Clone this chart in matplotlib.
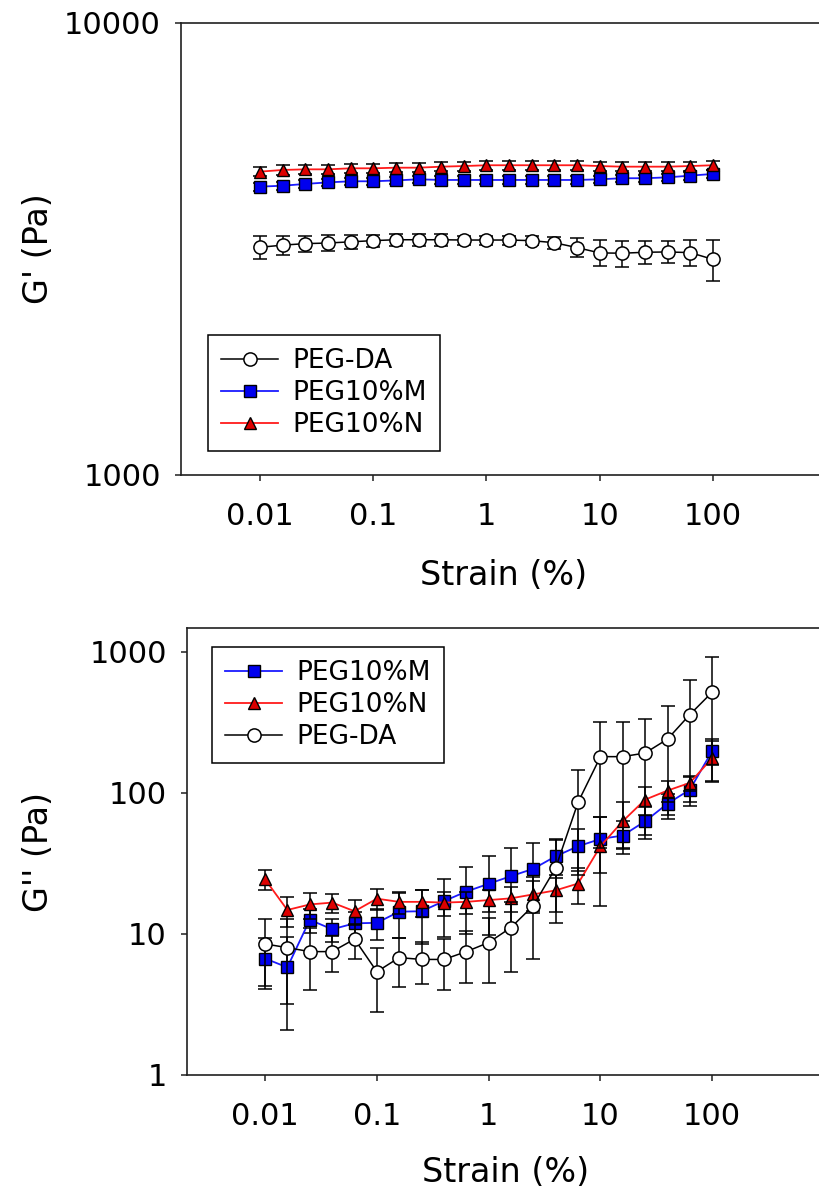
import matplotlib
matplotlib.use('Agg')
import matplotlib.pyplot as plt
from matplotlib.ticker import FixedLocator, FixedFormatter, NullLocator

# ---------------- data ----------------
strain = [0.01, 0.0158, 0.0251, 0.0398, 0.0631, 0.1, 0.158, 0.251, 0.398, 0.631,
          1.0, 1.58, 2.51, 3.98, 6.31, 10.0, 15.8, 25.1, 39.8, 63.1, 100.0]

# G' (storage modulus)
gp_da = [3190, 3225, 3250, 3260, 3280, 3300, 3315, 3315, 3315, 3310, 3310,
         3310, 3300, 3265, 3185, 3100, 3095, 3110, 3115, 3105, 3000]
gp_da_err = [185, 153, 133, 128, 112, 101, 99, 99, 99, 76, 76,
             76, 78, 96, 154, 205, 205, 185, 174, 200, 313]
gp_m = [4345, 4365, 4405, 4440, 4465, 4465, 4485, 4510, 4495, 4495, 4495,
        4495, 4495, 4495, 4495, 4510, 4535, 4535, 4555, 4595, 4635]
gp_m_err = [90, 90, 90, 85, 85, 85, 85, 85, 85, 85, 85,
            85, 85, 85, 85, 85, 85, 85, 85, 90, 90]
gp_n = [4690, 4730, 4745, 4745, 4770, 4770, 4785, 4785, 4810, 4825, 4845,
        4845, 4845, 4845, 4845, 4825, 4810, 4810, 4810, 4825, 4845]
gp_n_err = [110, 110, 110, 110, 110, 110, 110, 110, 110, 110, 110,
            110, 110, 110, 110, 110, 110, 110, 110, 110, 110]

# G'' (loss modulus)
gpp_m = [6.7, 5.8, 12.6, 10.8, 11.9, 12.0, 14.4, 14.5, 17.1, 20.0, 22.7,
         25.7, 29.0, 35.6, 41.9, 47.2, 49.9, 63.0, 84.0, 105.5, 199.0]
gpp_m_err = [2.6, 3.7, 2.5, 2.0, 2.5, 3.0, 5.0, 6.0, 7.6, 10.0, 12.8,
             15.0, 15.0, 10.5, 14.0, 20.0, 13.0, 16.0, 14.0, 24.0, 42.0]
gpp_n = [24.4, 14.8, 16.2, 16.7, 14.5, 17.8, 16.9, 16.9, 16.7, 16.9, 17.4,
         17.9, 19.1, 20.4, 22.8, 41.9, 63.0, 89.7, 104.0, 118.0, 177.0]
gpp_n_err = [3.8, 3.5, 3.4, 2.5, 3.0, 3.0, 3.0, 3.6, 3.2, 3.0, 3.0,
             3.5, 4.5, 6.0, 6.5, 26.0, 23.0, 20.0, 18.0, 15.0, 55.0]
gpp_da = [8.5, 8.0, 7.5, 7.5, 9.2, 5.4, 6.8, 6.6, 6.6, 7.5, 8.7,
          11.1, 15.9, 29.5, 86.0, 181.0, 181.0, 192.0, 241.0, 360.0, 519.0]
gpp_da_err = [4.2, 4.8, 3.5, 2.1, 2.5, 2.6, 2.6, 2.2, 2.6, 3.0, 4.2,
              5.7, 9.3, 17.5, 60.0, 140.0, 140.0, 142.0, 176.0, 274.0, 400.0]

x_ticks = [0.01, 0.1, 1, 10, 100]
x_ticklabels = ['0.01', '0.1', '1', '10', '100']
top_yticks = [1000, 10000]
top_yticklabels = ['1000', '10000']
bot_yticks = [1, 10, 100, 1000]
bot_yticklabels = ['1', '10', '100', '1000']

labels = {'da': 'PEG-DA', 'm': 'PEG10%M', 'n': 'PEG10%N'}

# ---------------- styling ----------------
W, H = 819, 1191
DPI = 100
plt.rcParams['font.family'] = ['DejaVu Sans']
fig = plt.figure(figsize=(W / DPI, H / DPI), dpi=DPI)

TICK_FS = 22
LABEL_FS = 24
LEG_FS = 19

styles = {
    'da': dict(color='black', marker='o', markersize=9.5, markerfacecolor='white',
               markeredgecolor='black', markeredgewidth=1.1, linewidth=1.1),
    'm': dict(color='#1a1aff', marker='s', markersize=8, markerfacecolor='#0000ee',
              markeredgecolor='black', markeredgewidth=1.0, linewidth=1.3),
    'n': dict(color='#ff1a1a', marker='^', markersize=9, markerfacecolor='#dd0000',
              markeredgecolor='black', markeredgewidth=1.0, linewidth=1.3),
}


def px_axes(left, top, right, bottom):
    return fig.add_axes([left / W, 1 - bottom / H, (right - left) / W, (bottom - top) / H])


def style_axes(ax, yticks, yticklabels):
    ax.set_xscale('log')
    ax.set_yscale('log')
    ax.xaxis.set_major_locator(FixedLocator(x_ticks))
    ax.xaxis.set_major_formatter(FixedFormatter(x_ticklabels))
    ax.xaxis.set_minor_locator(NullLocator())
    ax.yaxis.set_major_locator(FixedLocator(yticks))
    ax.yaxis.set_major_formatter(FixedFormatter(yticklabels))
    ax.yaxis.set_minor_locator(NullLocator())
    for sp in ax.spines.values():
        sp.set_linewidth(1.2)
        sp.set_color('#202020')
    ax.tick_params(axis='both', which='major', direction='out', length=4.5,
                   width=1.1, labelsize=TICK_FS, color='#202020')
    ax.tick_params(axis='x', pad=15)
    ax.tick_params(axis='y', pad=10)


def draw(ax, y, yerr, key, z):
    ax.errorbar(strain, y, yerr=yerr, fmt='none', ecolor='black', elinewidth=1.1,
                capsize=5, capthick=1.1, zorder=z)
    line, = ax.plot(strain, y, label=labels[key], zorder=z + 0.5, **styles[key])
    return line


def make_legend(ax, handles, x, y):
    leg = ax.legend(handles=handles, loc='upper left',
                    bbox_to_anchor=(x / W, 1 - y / H), bbox_transform=fig.transFigure,
                    borderaxespad=0, fontsize=LEG_FS, fancybox=False, framealpha=1,
                    edgecolor='black', handlelength=2.15, handletextpad=0.55,
                    labelspacing=0.22, borderpad=0.5, numpoints=1)
    leg.get_frame().set_linewidth(1.1)
    return leg


# ---------- top: G' ----------
ax1 = px_axes(181, 23, 826, 475)
style_axes(ax1, top_yticks, top_yticklabels)
ax1.set_xlim(0.002, 1000)
ax1.set_ylim(1000, 10000)
h_da = draw(ax1, gp_da, gp_da_err, 'da', 3)
h_m = draw(ax1, gp_m, gp_m_err, 'm', 4)
h_n = draw(ax1, gp_n, gp_n_err, 'n', 5)
ax1.set_xlabel('Strain (%)', fontsize=LABEL_FS, labelpad=20)
ax1.set_ylabel("G' (Pa)", fontsize=LABEL_FS)
ax1.yaxis.set_label_coords((55 - 181) / (826 - 181), 0.5)
make_legend(ax1, [h_da, h_m, h_n], 208, 335)

# ---------- bottom: G'' ----------
ax2 = px_axes(187, 628, 824, 1075)
style_axes(ax2, bot_yticks, bot_yticklabels)
ax2.set_xlim(0.002, 1000)
ax2.set_ylim(1, 1479)
h2_m = draw(ax2, gpp_m, gpp_m_err, 'm', 3)
h2_n = draw(ax2, gpp_n, gpp_n_err, 'n', 4)
h2_da = draw(ax2, gpp_da, gpp_da_err, 'da', 5)
ax2.set_xlabel('Strain (%)', fontsize=LABEL_FS, labelpad=18)
ax2.set_ylabel("G'' (Pa)", fontsize=LABEL_FS)
ax2.yaxis.set_label_coords((55 - 187) / (824 - 187), 0.5)
make_legend(ax2, [h2_m, h2_n, h2_da], 212, 647)

fig.savefig('out.png', dpi=DPI)
